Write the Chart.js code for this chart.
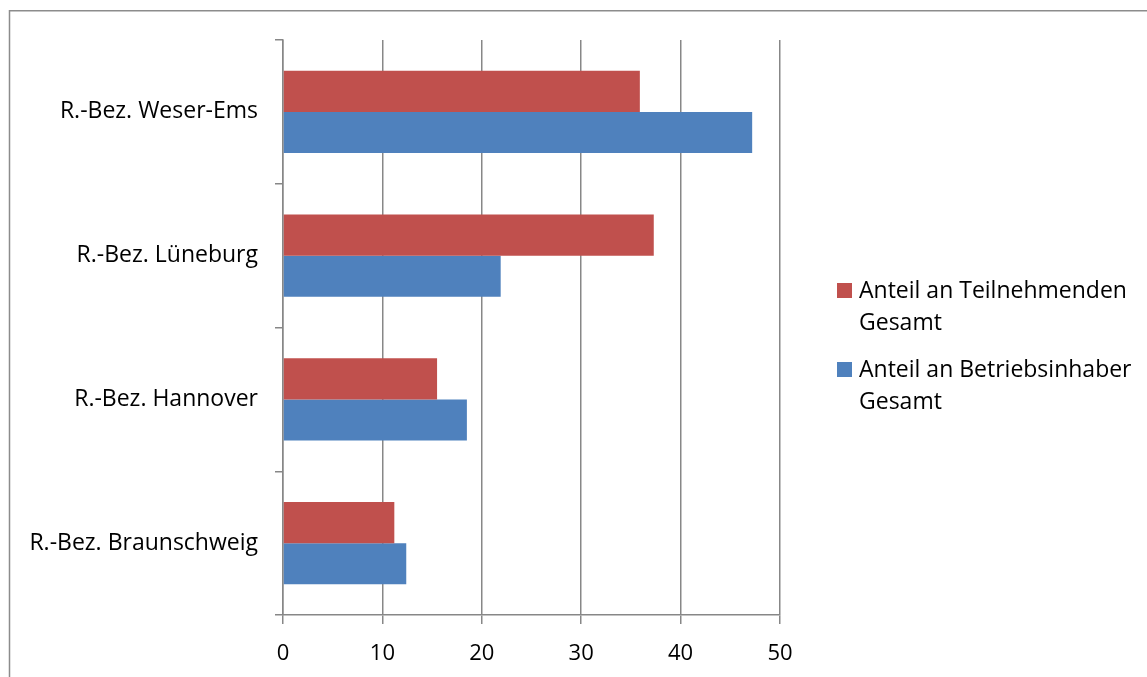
<!DOCTYPE html>
<html><head><meta charset="utf-8">
<script src="https://cdn.jsdelivr.net/npm/chart.js@4/dist/chart.umd.min.js"></script>
<style>html,body{margin:0;padding:0;background:#fff;overflow:hidden}#wrap{position:relative;width:1147px;height:677px}</style>
</head><body><div id="wrap"><canvas id="c" width="1147" height="677"></canvas></div>
<script>
const categories = ['R.-Bez. Weser-Ems', 'R.-Bez. Lüneburg', 'R.-Bez. Hannover', 'R.-Bez. Braunschweig'];
const teilnehmende = [35.9, 37.3, 15.5, 11.2];
const betriebsinhaber = [47.2, 21.9, 18.5, 12.4];
const seriesNames = ['Anteil an Teilnehmenden Gesamt', 'Anteil an Betriebsinhaber Gesamt'];
const legendLines = [['Anteil an Teilnehmenden', 'Gesamt'], ['Anteil an Betriebsinhaber', 'Gesamt']];
const xMin = 0, xMax = 50, xStep = 10;

const FONT_FAMILY = '"Open Sans"';
const FONT_SIZE = 23;
const GRID = '#878787';

const framePlugin = {
  id: 'frame',
  beforeDraw(chart) {
    const ctx = chart.ctx;
    ctx.save();
    ctx.strokeStyle = '#8c8c8c';
    ctx.lineWidth = 1.5;
    ctx.beginPath();
    ctx.moveTo(9.5, 700); ctx.lineTo(9.5, 10.75); ctx.lineTo(1200, 10.75);
    ctx.stroke();
    ctx.restore();
  }
};

const sideLegend = {
  id: 'sideLegend',
  afterDraw(chart) {
    const ctx = chart.ctx;
    ctx.save();
    ctx.font = FONT_SIZE + 'px ' + FONT_FAMILY;
    ctx.textBaseline = 'middle';
    ctx.textAlign = 'left';
    chart.data.datasets.forEach((ds, i) => {
      const y0 = 290.5 + i * 79;
      ctx.fillStyle = ds.backgroundColor;
      ctx.fillRect(837, y0 - 7.5, 15, 15);
      ctx.fillStyle = '#000';
      legendLines[i].forEach((line, j) => ctx.fillText(line, 859, y0 + 1 + j * 31.5));
    });
    ctx.restore();
  }
};

new Chart(document.getElementById('c'), {
  type: 'bar',
  data: {
    labels: categories,
    datasets: [
      { label: seriesNames[0], data: teilnehmende, backgroundColor: '#C0504D', borderWidth: 0 },
      { label: seriesNames[1], data: betriebsinhaber, backgroundColor: '#4F81BD', borderWidth: 0 }
    ]
  },
  options: {
    indexAxis: 'y',
    responsive: false,
    animation: false,
    events: [],
    categoryPercentage: 0.573,
    barPercentage: 1,
    layout: { padding: { top: 40, right: 367, left: 0, bottom: 0 } },
    plugins: { legend: { display: false }, tooltip: { enabled: false } },
    scales: {
      x: {
        min: xMin, max: xMax,
        ticks: { stepSize: xStep, color: '#000', font: { family: FONT_FAMILY, size: 22 }, padding: 17 },
        grid: { color: GRID, lineWidth: 1.5, tickLength: 9 },
        border: { color: GRID, width: 1.5 },
        afterFit(s) { s.height = 62; }
      },
      y: {
        ticks: { color: '#000', font: { family: FONT_FAMILY, size: FONT_SIZE }, padding: 17 },
        grid: { offset: true, drawOnChartArea: false, color: GRID, lineWidth: 1.5, tickLength: 8 },
        border: { color: GRID, width: 1.5 },
        afterFit(s) { s.width = 283; }
      }
    }
  },
  plugins: [framePlugin, sideLegend]
});
</script></body></html>
